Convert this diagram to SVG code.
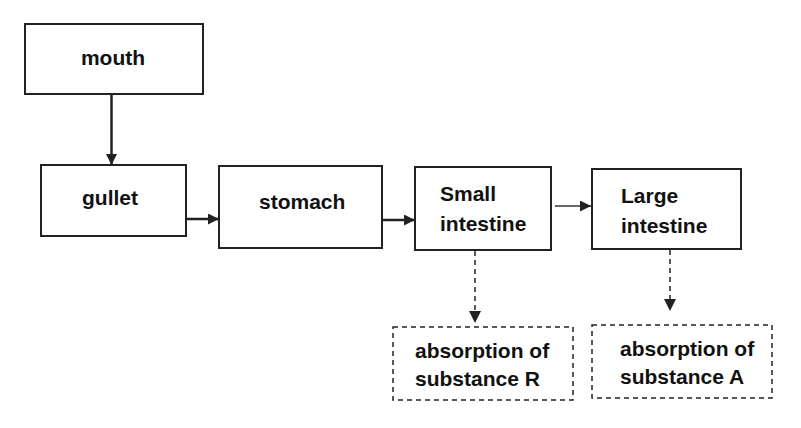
<svg xmlns="http://www.w3.org/2000/svg" width="801" height="428" viewBox="0 0 801 428">
<defs>
<style>
.box{fill:#fff;stroke:#222;stroke-width:2}
.dbox{fill:#fff;stroke:#222;stroke-width:1.5;stroke-dasharray:5 4}
.t{font-family:"Liberation Sans",Arial,sans-serif;font-weight:bold;font-size:21px;fill:#111}
.c{stroke:#222;stroke-width:2.5;fill:none}
.thin{stroke:#333;stroke-width:1.5;fill:none}
.dash{stroke:#222;stroke-width:1.5;fill:none;stroke-dasharray:5 4}
</style>
<marker id="ah" viewBox="0 0 10 10" refX="10" refY="5" markerWidth="11" markerHeight="11" markerUnits="userSpaceOnUse" orient="auto">
<path d="M0,0 L10,5 L0,10 Z" fill="#222"/>
</marker>
<marker id="ahs" viewBox="0 0 10 10" refX="10" refY="5" markerWidth="12" markerHeight="12" markerUnits="userSpaceOnUse" orient="auto">
<path d="M0,0 L10,5 L0,10 Z" fill="#222"/>
</marker>
</defs>
<rect width="801" height="428" fill="#fff"/>
<g id="connectors">
<line class="c" x1="111.5" y1="94" x2="111.5" y2="165" marker-end="url(#ah)"/>
<line class="c" x1="186" y1="219" x2="219" y2="219" marker-end="url(#ah)"/>
<line class="c" x1="382" y1="220" x2="415" y2="220" marker-end="url(#ah)"/>
<line class="thin" x1="555" y1="206" x2="591" y2="206" marker-end="url(#ah)"/>
<line class="dash" x1="475" y1="251" x2="475" y2="323" marker-end="url(#ahs)"/>
<line class="dash" x1="670" y1="250" x2="670" y2="311" marker-end="url(#ahs)"/>
</g>
<g id="mouth">
<rect class="box" x="25" y="24" width="178" height="70"/>
<text class="t" x="113" y="65" text-anchor="middle">mouth</text>
</g>
<g id="gullet">
<rect class="box" x="41" y="165" width="145" height="71"/>
<text class="t" x="82" y="205">gullet</text>
</g>
<g id="stomach">
<rect class="box" x="219" y="166" width="163" height="82"/>
<text class="t" x="259" y="209">stomach</text>
</g>
<g id="small-intestine">
<rect class="box" x="415" y="167" width="136" height="83"/>
<text class="t" x="440" y="201">Small</text>
<text class="t" x="440" y="231">intestine</text>
</g>
<g id="large-intestine">
<rect class="box" x="592" y="169" width="149" height="80"/>
<text class="t" x="621" y="203">Large</text>
<text class="t" x="621" y="233">intestine</text>
</g>
<g id="absorption-R">
<rect class="dbox" x="393" y="327" width="180" height="73"/>
<text class="t" x="415" y="358">absorption of</text>
<text class="t" x="415" y="386">substance R</text>
</g>
<g id="absorption-A">
<rect class="dbox" x="592" y="325" width="180" height="73"/>
<text class="t" x="620" y="356">absorption of</text>
<text class="t" x="620" y="384">substance A</text>
</g>
</svg>
